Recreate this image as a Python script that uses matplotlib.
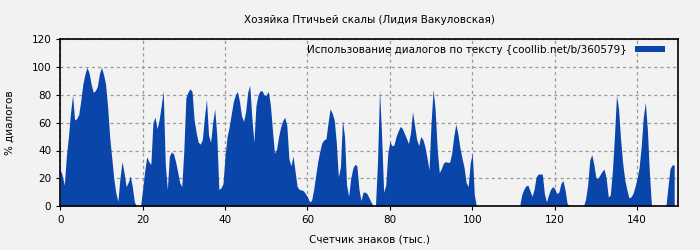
import numpy as np
import matplotlib
matplotlib.use("Agg")
import matplotlib.pyplot as plt

title = "Хозяйка Птичьей скалы (Лидия Вакуловская)"
xlabel = "Счетчик знаков (тыс.)"
ylabel = "% диалогов"
legend_label = "Использование диалогов по тексту {coollib.net/b/360579}"

x_start, x_step = 0.0, 0.5
dialog_pct = [
    # 0 - 19.5
    26.5, 22, 15, 36, 50, 67, 80, 62, 63, 66, 76, 88, 95, 100, 96, 88, 82, 83, 86, 95,
    100, 95, 88, 72, 50, 35, 20, 9.5, 3.4, 20, 32, 24, 14, 17, 21.7, 14, 3, 0, 0, 0,
    # 20 - 39.5
    12, 25, 35.5, 32, 30, 60, 64, 55.7, 62, 72, 83, 30, 12, 36, 39, 37.6, 32, 24.6, 17, 14,
    40, 78, 82, 84.5, 82.4, 62, 53, 46, 44.6, 48, 64, 77, 51, 46, 60, 70, 51, 12, 13, 16,
    # 40 - 59.5
    36, 50, 57, 66, 75, 80, 82.6, 75.4, 65, 61, 68, 82, 87, 64, 46, 72, 80, 83, 83, 80,
    80, 82.6, 73, 55, 38, 41, 50, 57, 61.5, 64, 58, 34, 29, 36, 25, 14, 12, 11.6, 11, 9,
    # 60 - 79.5
    6.7, 3, 4, 11.6, 22, 32, 39.5, 45.5, 47.7, 48.5, 60, 70, 67, 62, 46, 21, 28, 62, 50, 15,
    7, 20, 27, 30, 29, 12, 3.9, 10, 10, 8.7, 5.5, 2.5, 0, 0, 31, 84, 50, 10, 15, 38,
    # 80 - 99.5
    46.5, 43.4, 44, 50, 54, 57.3, 56, 52.5, 49, 45, 52.5, 68, 58, 48, 43.5, 50, 48, 43, 35, 26,
    60, 84, 69, 40.5, 24, 27, 31, 32, 31.5, 31.5, 38, 50, 59, 52, 42, 34.5, 28, 17, 14, 31,
    # 100 - 119.5
    38, 8, 0, 0, 0, 0, 0, 0, 0, 0, 0, 0, 0, 0, 0, 0, 0, 0, 0, 0,
    0, 0, 0, 0, 8, 12, 14.5, 15, 11, 7, 12, 21, 23, 23, 23, 9, 3, 8, 12, 14,
    # 120 - 139.5
    12.5, 9, 10, 16, 18.5, 12, 2, 0, 0, 0, 0, 0, 0, 0, 0, 5, 15, 33, 37, 30,
    20.5, 20, 22.5, 25, 26.5, 20, 6.5, 8, 25, 50, 80, 70, 48, 31, 19, 12, 6, 6.5, 9, 14,
    # 140 - 149
    20, 28, 43, 64, 74.7, 55, 23, 0, 0, 0, 0, 0, 0, 0, 0, 14, 27, 29.6, 29.6,
]

x_vals = x_start + x_step * np.arange(len(dialog_pct))
y_vals = np.array(dialog_pct, dtype=float)

bg = "#f2f2f2"
blue = "#0a46aa"
fs = 7.5

fig = plt.figure(figsize=(7, 2.5), dpi=100, facecolor=bg)
ax = fig.add_axes([0.086, 0.176, 0.883, 0.666])
ax.set_facecolor(bg)

ax.fill_between(x_vals, 0, y_vals, color=blue, linewidth=0, label=legend_label)

ax.set_xlim(0, 150)
ax.set_ylim(0, 120)
ax.set_xticks([0, 20, 40, 60, 80, 100, 120, 140])
ax.set_yticks([0, 20, 40, 60, 80, 100, 120])
ax.grid(True, color="#999999", linestyle=(0, (2.5, 2.5)), linewidth=0.9)
ax.set_axisbelow(True)
ax.tick_params(labelsize=fs, length=3, color="black")
for s in ax.spines.values():
    s.set_color("black")
    s.set_linewidth(1.2)

ax.set_title(title, fontsize=fs, pad=12)
ax.set_xlabel(xlabel, fontsize=fs, labelpad=7)
ax.set_ylabel(ylabel, fontsize=fs, labelpad=12)

leg = ax.legend(loc="upper right", fontsize=fs, frameon=False, markerfirst=False,
                handlelength=2.9, handleheight=0.55, handletextpad=0.8,
                borderaxespad=0.1, bbox_to_anchor=(0.987, 1.0))

fig.savefig("out.png", dpi=100, facecolor=bg)
